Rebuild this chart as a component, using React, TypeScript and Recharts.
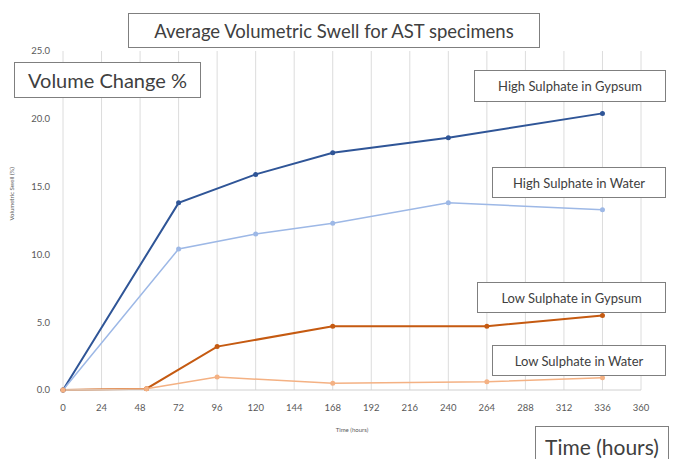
import { LineChart, Line, XAxis, YAxis, CartesianGrid } from 'recharts'

// hours and swell values per series
const highGypsumTime = [0, 72, 120, 168, 240, 336]
const highGypsumSwell = [0, 13.8, 15.9, 17.5, 18.6, 20.4]

const highWaterTime = [0, 72, 120, 168, 240, 336]
const highWaterSwell = [0, 10.4, 11.5, 12.3, 13.8, 13.3]

const lowGypsumTime = [0, 52, 96, 168, 264, 336]
const lowGypsumSwell = [0, 0.1, 3.2, 4.7, 4.7, 5.5]

const lowWaterTime = [0, 52, 96, 168, 264, 336]
const lowWaterSwell = [0, 0.1, 0.95, 0.5, 0.6, 0.9]

const xTicks = [0, 24, 48, 72, 96, 120, 144, 168, 192, 216, 240, 264, 288, 312, 336, 360]
const yTicks = [0, 5, 10, 15, 20, 25]

const toRows = (t: number[], v: number[]) => t.map((h, i) => ({ time: h, swell: v[i] }))

const series = [
  { name: 'High Sulphate in Gypsum', data: toRows(highGypsumTime, highGypsumSwell), color: '#2F5597', width: 2 },
  { name: 'High Sulphate in Water', data: toRows(highWaterTime, highWaterSwell), color: '#9DB8E6', width: 1.5 },
  { name: 'Low Sulphate in Gypsum', data: toRows(lowGypsumTime, lowGypsumSwell), color: '#C55A11', width: 2 },
  { name: 'Low Sulphate in Water', data: toRows(lowWaterTime, lowWaterSwell), color: '#F4B183', width: 1.5 },
]

const font = 'Lato, "Open Sans", sans-serif'

const Box = ({ left, top, width, height, size, children }: any) => (
  <div
    style={{
      position: 'absolute',
      left,
      top,
      width,
      height,
      boxSizing: 'border-box',
      border: '1.5px solid #7F7F7F',
      background: '#fff',
      color: '#404040',
      fontFamily: font,
      fontSize: size,
      display: 'flex',
      alignItems: 'center',
      justifyContent: 'center',
      whiteSpace: 'nowrap',
    }}
  >
    {children}
  </div>
)

export default function App() {
  return (
    <div style={{ position: 'absolute', left: 0, top: 0, width: 674, height: 459, background: '#fff' }}>
      <LineChart
        width={674}
        height={459}
        margin={{ top: 51, right: 33, left: 0, bottom: 39 }}
        style={{ fontFamily: font }}
      >
        <CartesianGrid horizontal={false} stroke="#DCDCDC" />
        <XAxis
          type="number"
          dataKey="time"
          domain={[0, 360]}
          ticks={xTicks}
          interval={0}
          axisLine={{ stroke: '#D0D0D0' }}
          tickLine={false}
          tickSize={0}
          tickMargin={14}
          height={30}
          tick={{ fontSize: 9.5, fill: '#595959' }}
          label={{ value: 'Time (hours)', position: 'insideBottom', offset: -12, fontSize: 6, fill: '#595959' }}
        />
        <YAxis
          type="number"
          domain={[0, 25]}
          ticks={yTicks}
          interval={0}
          axisLine={false}
          tickLine={false}
          tickSize={0}
          tickMargin={13}
          width={63}
          tickFormatter={(v: number) => v.toFixed(1)}
          tick={{ fontSize: 9.5, fill: '#595959' }}
          label={{ value: 'Volumetric Swell (%)', angle: -90, position: 'insideLeft', offset: 12, fontSize: 6, fill: '#595959' }}
        />
        {series.map(s => (
          <Line
            key={s.name}
            data={s.data}
            dataKey="swell"
            name={s.name}
            type="linear"
            stroke={s.color}
            strokeWidth={s.width}
            dot={{ r: 2.5, fill: s.color, stroke: s.color, strokeWidth: 0 }}
            isAnimationActive={false}
          />
        ))}
      </LineChart>

      <Box left={128} top={13} width={412} height={35} size={18.5}>Average Volumetric Swell for AST specimens</Box>
      <Box left={14} top={62} width={187} height={36} size={20}>Volume Change %</Box>
      <Box left={474} top={70} width={192} height={32} size={13}>High Sulphate in Gypsum</Box>
      <Box left={492} top={167} width={174} height={31} size={13}>High Sulphate in Water</Box>
      <Box left={477} top={282} width={189} height={31} size={13}>Low Sulphate in Gypsum</Box>
      <Box left={492} top={345} width={174} height={31} size={13}>Low Sulphate in Water</Box>
      <Box left={535} top={426} width={134} height={40} size={21}>Time (hours)</Box>
    </div>
  )
}
